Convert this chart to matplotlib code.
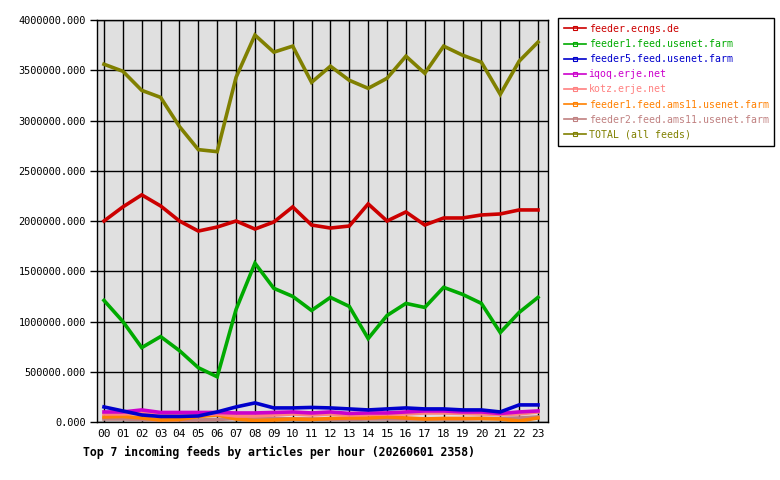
import matplotlib
matplotlib.use("Agg")
import matplotlib.pyplot as plt
from matplotlib.lines import Line2D
from matplotlib.ticker import FuncFormatter, MultipleLocator

hours = [f"{h:02d}" for h in range(24)]

feeder_ecngs = [2000000, 2140000, 2260000, 2150000, 2000000, 1900000, 1940000, 2000000,
                1920000, 1990000, 2140000, 1960000, 1930000, 1950000, 2170000, 2000000,
                2090000, 1960000, 2030000, 2030000, 2060000, 2070000, 2110000, 2110000]
feeder1_usenet = [1210000, 1000000, 740000, 850000, 710000, 540000, 450000, 1120000,
                  1580000, 1330000, 1250000, 1110000, 1240000, 1150000, 830000, 1060000,
                  1180000, 1140000, 1340000, 1270000, 1180000, 890000, 1090000, 1240000]
feeder5_usenet = [150000, 110000, 70000, 55000, 55000, 60000, 100000, 150000,
                  190000, 140000, 140000, 145000, 140000, 130000, 120000, 130000,
                  140000, 130000, 130000, 120000, 120000, 100000, 170000, 170000]
iqoq = [100000, 100000, 120000, 95000, 95000, 95000, 95000, 90000,
        90000, 95000, 100000, 90000, 100000, 85000, 90000, 90000,
        100000, 110000, 110000, 100000, 100000, 85000, 100000, 110000]
kotz = [80000, 80000, 90000, 80000, 75000, 75000, 80000, 60000,
        60000, 70000, 80000, 70000, 80000, 70000, 75000, 80000,
        80000, 90000, 90000, 85000, 80000, 75000, 80000, 100000]
feeder1_ams11 = [50000, 55000, 40000, 20000, 25000, 55000, 70000, 30000,
                 15000, 20000, 30000, 25000, 35000, 40000, 40000, 50000,
                 40000, 30000, 35000, 35000, 35000, 30000, 10000, 40000]
feeder2_ams11 = [30000, 30000, 25000, 20000, 20000, 20000, 25000, 35000,
                 40000, 35000, 30000, 30000, 25000, 25000, 30000, 30000,
                 30000, 30000, 30000, 30000, 35000, 35000, 40000, 50000]
total = [3560000, 3490000, 3300000, 3230000, 2940000, 2710000, 2690000, 3430000,
         3850000, 3680000, 3740000, 3380000, 3540000, 3400000, 3320000, 3420000,
         3640000, 3470000, 3740000, 3650000, 3580000, 3260000, 3590000, 3780000]

series = [
    ("feeder.ecngs.de", feeder_ecngs, "#cc0000"),
    ("feeder1.feed.usenet.farm", feeder1_usenet, "#00aa00"),
    ("feeder5.feed.usenet.farm", feeder5_usenet, "#0000cc"),
    ("iqoq.erje.net", iqoq, "#cc00cc"),
    ("kotz.erje.net", kotz, "#ff8080"),
    ("feeder1.feed.ams11.usenet.farm", feeder1_ams11, "#ff8000"),
    ("feeder2.feed.ams11.usenet.farm", feeder2_ams11, "#c08080"),
    ("TOTAL (all feeds)", total, "#808000"),
]

plt.rcParams["font.family"] = ["DejaVu Sans Mono"]

fig = plt.figure(figsize=(7.8, 4.8), dpi=100)
ax = fig.add_axes([97 / 780, 1 - 422 / 480, 451 / 780, 402 / 480])
ax.set_facecolor("#e0e0e0")

x = list(range(len(hours)))
# small feeds first so the big ones sit on top
for name, vals, col in reversed(series):
    ax.plot(x, vals, color=col, lw=2.6, solid_joinstyle="miter", zorder=3)

ax.set_xlim(-0.37, 23.53)
ax.set_ylim(0, 4000000)
ax.set_xticks(x)
ax.set_xticklabels(hours, fontsize=8)
ax.yaxis.set_major_locator(MultipleLocator(500000))
ax.yaxis.set_major_formatter(FuncFormatter(lambda v, p: f"{v:.3f}"))
ax.tick_params(axis="y", labelsize=7.4, length=5, direction="out", width=1, pad=3)
ax.tick_params(axis="x", length=0, pad=5)
ax.grid(True, color="black", lw=1, zorder=1)
ax.set_axisbelow(True)
for s in ax.spines.values():
    s.set_color("black")
    s.set_linewidth(1)

handles = [Line2D([0], [0], color=col, lw=1.2, marker="s", markersize=3,
                  markerfacecolor="none", markeredgewidth=0.8)
           for name, vals, col in series]
leg = fig.legend(handles, [s[0] for s in series], loc="upper left",
                 bbox_to_anchor=(558 / 780, 1 - 18 / 480), fontsize=7.1,
                 frameon=True, fancybox=False, edgecolor="black", framealpha=1,
                 handlelength=2.2, handletextpad=0.3, labelspacing=0.52,
                 borderpad=0.6, borderaxespad=0)
leg.get_frame().set_linewidth(1)
for txt, (name, vals, col) in zip(leg.get_texts(), series):
    txt.set_color(col)

fig.text(83 / 780, 1 - 452 / 480, "Top 7 incoming feeds by articles per hour (20260601 2358)",
         fontsize=8.3, fontweight="bold", ha="left", va="center")

fig.savefig("out.png", dpi=100)
